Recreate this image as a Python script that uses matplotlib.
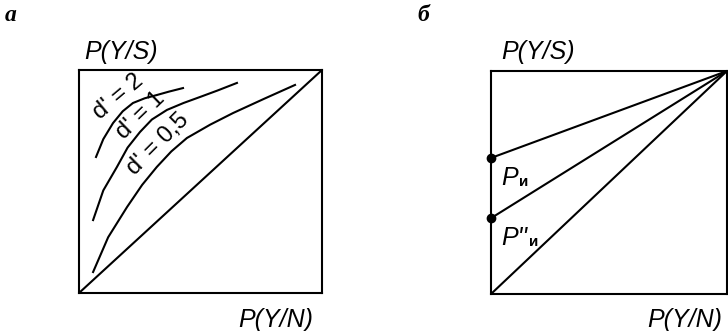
import matplotlib
matplotlib.use("Agg")
import matplotlib.pyplot as plt

# ROC curves for three sensitivities (hit rate vs false alarm rate)
d2_x = [0.07, 0.10, 0.14, 0.18, 0.222, 0.27, 0.321, 0.37, 0.428]
d2_y = [0.61, 0.69, 0.762, 0.815, 0.852, 0.873, 0.888, 0.903, 0.919]
d1_x = [0.058, 0.10, 0.156, 0.20, 0.251, 0.30, 0.362, 0.43, 0.498, 0.57, 0.65]
d1_y = [0.327, 0.46, 0.565, 0.652, 0.722, 0.778, 0.821, 0.852, 0.879, 0.908, 0.942]
d05_x = [0.058, 0.12, 0.198, 0.26, 0.32, 0.38, 0.444, 0.54, 0.634, 0.76, 0.889]
d05_y = [0.094, 0.25, 0.386, 0.485, 0.565, 0.635, 0.695, 0.755, 0.807, 0.87, 0.933]
curve_labels = ["d' = 2", "d' = 1", "d' = 0,5"]

# straight ROC lines through the upper right corner
start_y = [0.61, 0.34, 0.0]
point_names = ["P", "P''"]

W, H = 728, 331
fig = plt.figure(figsize=(W / 100, H / 100), dpi=100)

sans = "Liberation Sans"
serif = "Liberation Serif"


def make_axes(x0, x1, y0, y1):
    ax = fig.add_axes([x0 / W, 1 - y1 / H, (x1 - x0) / W, (y1 - y0) / H])
    ax.set_xlim(0, 1)
    ax.set_ylim(0, 1)
    ax.set_xticks([])
    ax.set_yticks([])
    for s in ax.spines.values():
        s.set_linewidth(1.5)
    return ax


# panel a
ax = make_axes(79, 322, 70, 293)
ax.plot([0, 1], [0, 1], color="black", lw=1.5)
ax.plot(d2_x, d2_y, color="black", lw=1.5)
ax.plot(d1_x, d1_y, color="black", lw=1.5)
ax.plot(d05_x, d05_y, color="black", lw=1.5)
ax.text(0.163, 0.878, curve_labels[0], rotation=40, ha="center", va="center",
        fontsize=17, family=sans, rotation_mode="anchor")
ax.text(0.253, 0.797, curve_labels[1], rotation=44, ha="center", va="center",
        fontsize=17, family=sans, rotation_mode="anchor")
ax.text(0.327, 0.667, curve_labels[2], rotation=45, ha="center", va="center",
        fontsize=17, family=sans, rotation_mode="anchor")

# panel б
bx = make_axes(491, 727, 71, 294)
for y0 in start_y:
    bx.plot([0, 1], [y0, 1], color="black", lw=1.5)
bx.plot([0, 0], start_y[:2], "o", color="black", ms=6, clip_on=False)
bx.text(0.045, 0.49, point_names[0], fontsize=18, family=sans, style="italic",
        ha="left", va="baseline")
bx.text(0.12, 0.485, "и", fontsize=11, family=sans, weight="bold",
        ha="left", va="baseline")
bx.text(0.045, 0.22, point_names[1], fontsize=18, family=sans, style="italic",
        ha="left", va="baseline")
bx.text(0.16, 0.215, "и", fontsize=11, family=sans, weight="bold",
        ha="left", va="baseline")

# axis captions and panel letters
for x in (84, 501):
    fig.text(x / W, 1 - 59 / H, "P(Y/S)", fontsize=18, family=sans,
             style="italic", ha="left", va="baseline")
for x in (313, 722):
    fig.text(x / W, 1 - 327 / H, "P(Y/N)", fontsize=18, family=sans,
             style="italic", ha="right", va="baseline")
fig.text(5 / W, 1 - 21 / H, "а", fontsize=17, family=serif, style="italic",
         weight="bold", ha="left", va="baseline")
fig.text(417 / W, 1 - 21 / H, "б", fontsize=17, family=serif, style="italic",
         weight="bold", ha="left", va="baseline")

fig.savefig("out.png", dpi=100)
